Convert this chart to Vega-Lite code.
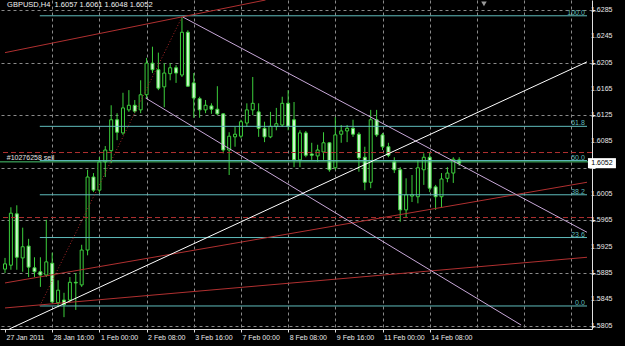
{
  "$schema": "https://vega.github.io/schema/vega-lite/v6.json",
  "width": 592,
  "height": 329,
  "autosize": {"type": "none"},
  "padding": {"left": 0, "top": 0, "right": 33, "bottom": 17},
  "background": "#000000",
  "config": {
    "view": {"stroke": null},
    "axis": {"labelOverlap": false, "labelFlush": false, "labelBound": false, "titleOpacity": 0,
      "labelFont": "Liberation Sans", "labelFontSize": 7, "labelColor": "#e8e8e8",
      "gridColor": "#8a8a8a", "gridDash": [3,3], "gridWidth": 1,
      "domainColor": "#e0e0e0", "tickColor": "#e0e0e0", "tickSize": 3},
    "axisY": {"labels": false}
  },
  "datasets": {
    "candles": [
      {"i":0,"o":1.5891,"h":1.5908,"l":1.5885,"c":1.5899},
      {"i":1,"o":1.5897,"h":1.5985,"l":1.5890,"c":1.5976},
      {"i":2,"o":1.5975,"h":1.5988,"l":1.5890,"c":1.5909},
      {"i":3,"o":1.5908,"h":1.5954,"l":1.5887,"c":1.5925},
      {"i":4,"o":1.5926,"h":1.5937,"l":1.5879,"c":1.5894},
      {"i":5,"o":1.5893,"h":1.5909,"l":1.5879,"c":1.5887},
      {"i":6,"o":1.5887,"h":1.5909,"l":1.5864,"c":1.5882},
      {"i":7,"o":1.5882,"h":1.5966,"l":1.5879,"c":1.5902},
      {"i":8,"o":1.5900,"h":1.5916,"l":1.5840,"c":1.5841},
      {"i":9,"o":1.5840,"h":1.5874,"l":1.5833,"c":1.5859},
      {"i":10,"o":1.5844,"h":1.5855,"l":1.5818,"c":1.5837},
      {"i":11,"o":1.5844,"h":1.5879,"l":1.5840,"c":1.5871},
      {"i":12,"o":1.5871,"h":1.5885,"l":1.5829,"c":1.5870},
      {"i":13,"o":1.5867,"h":1.5928,"l":1.5864,"c":1.5920},
      {"i":14,"o":1.5920,"h":1.6042,"l":1.5912,"c":1.6031},
      {"i":15,"o":1.6031,"h":1.6037,"l":1.6008,"c":1.6011},
      {"i":16,"o":1.6011,"h":1.6061,"l":1.6007,"c":1.6054},
      {"i":17,"o":1.6054,"h":1.6078,"l":1.6031,"c":1.6072},
      {"i":18,"o":1.6071,"h":1.6140,"l":1.6052,"c":1.6118},
      {"i":19,"o":1.6118,"h":1.6128,"l":1.6087,"c":1.6099},
      {"i":20,"o":1.6098,"h":1.6159,"l":1.6095,"c":1.6136},
      {"i":21,"o":1.6133,"h":1.6163,"l":1.6130,"c":1.6140},
      {"i":22,"o":1.6140,"h":1.6148,"l":1.6128,"c":1.6131},
      {"i":23,"o":1.6133,"h":1.6178,"l":1.6128,"c":1.6156},
      {"i":24,"o":1.6156,"h":1.6212,"l":1.6151,"c":1.6204},
      {"i":25,"o":1.6204,"h":1.6229,"l":1.6189,"c":1.6194},
      {"i":26,"o":1.6194,"h":1.6220,"l":1.6163,"c":1.6166},
      {"i":27,"o":1.6168,"h":1.6204,"l":1.6137,"c":1.6189},
      {"i":28,"o":1.6188,"h":1.6204,"l":1.6178,"c":1.6197},
      {"i":29,"o":1.6197,"h":1.6201,"l":1.6174,"c":1.6189},
      {"i":30,"o":1.6186,"h":1.6274,"l":1.6183,"c":1.6251},
      {"i":31,"o":1.6251,"h":1.6254,"l":1.6168,"c":1.6169},
      {"i":32,"o":1.6174,"h":1.6189,"l":1.6121,"c":1.6151},
      {"i":33,"o":1.6150,"h":1.6153,"l":1.6121,"c":1.6133},
      {"i":34,"o":1.6133,"h":1.6148,"l":1.6128,"c":1.6140},
      {"i":35,"o":1.6139,"h":1.6143,"l":1.6127,"c":1.6134},
      {"i":36,"o":1.6134,"h":1.6169,"l":1.6125,"c":1.6127},
      {"i":37,"o":1.6127,"h":1.6128,"l":1.6067,"c":1.6072},
      {"i":38,"o":1.6072,"h":1.6099,"l":1.6034,"c":1.6093},
      {"i":39,"o":1.6092,"h":1.6107,"l":1.6077,"c":1.6096},
      {"i":40,"o":1.6093,"h":1.6118,"l":1.6090,"c":1.6115},
      {"i":41,"o":1.6113,"h":1.6143,"l":1.6107,"c":1.6133},
      {"i":42,"o":1.6133,"h":1.6183,"l":1.6125,"c":1.6143},
      {"i":43,"o":1.6130,"h":1.6143,"l":1.6092,"c":1.6105},
      {"i":44,"o":1.6105,"h":1.6115,"l":1.6084,"c":1.6092},
      {"i":45,"o":1.6092,"h":1.6130,"l":1.6090,"c":1.6108},
      {"i":46,"o":1.6108,"h":1.6136,"l":1.6102,"c":1.6112},
      {"i":47,"o":1.6110,"h":1.6153,"l":1.6107,"c":1.6143},
      {"i":48,"o":1.6143,"h":1.6163,"l":1.6102,"c":1.6108},
      {"i":49,"o":1.6118,"h":1.6145,"l":1.6046,"c":1.6057},
      {"i":50,"o":1.6057,"h":1.6102,"l":1.6046,"c":1.6098},
      {"i":51,"o":1.6098,"h":1.6101,"l":1.6061,"c":1.6064},
      {"i":52,"o":1.6066,"h":1.6083,"l":1.6057,"c":1.6064},
      {"i":53,"o":1.6063,"h":1.6080,"l":1.6054,"c":1.6072},
      {"i":54,"o":1.6069,"h":1.6099,"l":1.6057,"c":1.6083},
      {"i":55,"o":1.6083,"h":1.6084,"l":1.6039,"c":1.6042},
      {"i":56,"o":1.6045,"h":1.6122,"l":1.6042,"c":1.6095},
      {"i":57,"o":1.6096,"h":1.6110,"l":1.6083,"c":1.6101},
      {"i":58,"o":1.6101,"h":1.6110,"l":1.6084,"c":1.6105},
      {"i":59,"o":1.6105,"h":1.6118,"l":1.6092,"c":1.6096},
      {"i":60,"o":1.6096,"h":1.6099,"l":1.6039,"c":1.6060},
      {"i":61,"o":1.6061,"h":1.6077,"l":1.6011,"c":1.6023},
      {"i":62,"o":1.6023,"h":1.6133,"l":1.6014,"c":1.6118},
      {"i":63,"o":1.6118,"h":1.6133,"l":1.6092,"c":1.6095},
      {"i":64,"o":1.6095,"h":1.6098,"l":1.6072,"c":1.6077},
      {"i":65,"o":1.6077,"h":1.6083,"l":1.6061,"c":1.6064},
      {"i":66,"o":1.6054,"h":1.6061,"l":1.6037,"c":1.6042},
      {"i":67,"o":1.6042,"h":1.6046,"l":1.5963,"c":1.5981},
      {"i":68,"o":1.5981,"h":1.6029,"l":1.5970,"c":1.6004},
      {"i":69,"o":1.6002,"h":1.6034,"l":1.5993,"c":1.6004},
      {"i":70,"o":1.6001,"h":1.6057,"l":1.5991,"c":1.6045},
      {"i":71,"o":1.6042,"h":1.6067,"l":1.6019,"c":1.6061},
      {"i":72,"o":1.6061,"h":1.6069,"l":1.6008,"c":1.6014},
      {"i":73,"o":1.6016,"h":1.6019,"l":1.5981,"c":1.6001},
      {"i":74,"o":1.6001,"h":1.6037,"l":1.5985,"c":1.6028},
      {"i":75,"o":1.6029,"h":1.6046,"l":1.6023,"c":1.6037},
      {"i":76,"o":1.6037,"h":1.6061,"l":1.6022,"c":1.6058},
      {"i":77,"o":1.6057,"h":1.6061,"l":1.6048,"c":1.6052}
    ],
    "yticks": [
      {"p":1.5805,"label":"1.5805"},{"p":1.5845,"label":"1.5845"},{"p":1.5885,"label":"1.5885"},
      {"p":1.5925,"label":"1.5925"},{"p":1.5965,"label":"1.5965"},{"p":1.6005,"label":"1.6005"},
      {"p":1.6085,"label":"1.6085"},{"p":1.6125,"label":"1.6125"},
      {"p":1.6165,"label":"1.6165"},{"p":1.6205,"label":"1.6205"},{"p":1.6245,"label":"1.6245"},
      {"p":1.6285,"label":"1.6285"}
    ],
    "fib": [
      {"lvl":"100.0","p":1.6276},
      {"lvl":"61.8","p":1.6108},
      {"lvl":"50.0","p":1.6056},
      {"lvl":"38.2","p":1.6004},
      {"lvl":"23.6","p":1.5939},
      {"lvl":"0.0","p":1.5835}
    ],
    "stops": [{"p":1.60682},{"p":1.59694}],
    "order": [{"p":1.6054,"label":"#10276258 sell"}],
    "redLines": [
      {"i1":0,"p1":1.6220,"i2":44.17,"p2":1.6300},
      {"i1":0,"p1":1.5870,"i2":98.667,"p2":1.6023},
      {"i1":0,"p1":1.5832,"i2":98.667,"p2":1.5909}
    ],
    "lavLines": [
      {"i1":30.17,"p1":1.6274,"i2":98.667,"p2":1.5947},
      {"i1":23.83,"p1":1.6151,"i2":87.5,"p2":1.5806}
    ],
    "whiteLines": [{"i1":0.73,"p1":1.5800,"i2":98.667,"p2":1.6206}],
    "fibTrend": [{"i1":5.9,"p1":1.5835,"i2":30.1,"p2":1.6276}],
    "title": [{"t":"GBPUSD,H4\u00a0\u00a01.6057 1.6061 1.6048 1.6052"}],
    "bid": [{"p":1.6052,"label":"1.6052"}],
    "shift": [{"v":1}]
  },
  "layer": [
    {
      "data": {"name": "candles"},
      "mark": {"type": "rule", "color": "#3ccf3c", "strokeWidth": 1},
      "encoding": {
        "x": {"field": "i", "type": "quantitative",
          "scale": {"domain": [0, 98.667], "nice": false, "zero": false},
          "axis": {
            "title": null, "orient": "bottom",
            "values": [0,4,8,12,16,20,24,28,32,36,40,44,48,52,56,60,64,68,72,76,80,84,88,92,96],
            "grid": true,
            "gridOpacity": {"condition": {"test": "datum.value === 0", "value": 0}, "value": 1},
            "domain": true, "ticks": true,
            "tickOpacity": {"condition": {"test": "datum.value % 8 === 0 && datum.value <= 72", "value": 1}, "value": 0},
            "labelExpr": "datum.value==0?'27 Jan 2011':datum.value==8?'28 Jan 16:00':datum.value==16?'1 Feb 00:00':datum.value==24?'2 Feb 08:00':datum.value==32?'3 Feb 16:00':datum.value==40?'7 Feb 00:00':datum.value==48?'8 Feb 08:00':datum.value==56?'9 Feb 16:00':datum.value==64?'11 Feb 00:00':datum.value==72?'14 Feb 08:00':''",
            "labelAlign": "left", "labelBaseline": "top", "labelPadding": 1, "labelOffset": 1,
            "labelOverlap": false
          }
        },
        "y": {"field": "l", "type": "quantitative",
          "scale": {"domain": [1.58, 1.63], "nice": false, "zero": false},
          "axis": {
            "title": null, "orient": "right",
            "values": [1.5805,1.5845,1.5885,1.5925,1.5965,1.6005,1.6045,1.6085,1.6125,1.6165,1.6205,1.6245,1.6285],
            "grid": true, "domain": true, "ticks": true, "labels": false
          }
        },
        "y2": {"field": "h"}
      }
    },
    {
      "data": {"name": "candles"},
      "mark": {"type": "bar", "width": 3, "stroke": "#3ccf3c", "strokeWidth": 1},
      "encoding": {
        "x": {"field": "i", "type": "quantitative", "scale": {"domain": [0, 98.667], "nice": false, "zero": false}},
        "y": {"field": "o", "type": "quantitative", "scale": {"domain": [1.58, 1.63], "nice": false, "zero": false}},
        "y2": {"field": "c"},
        "fill": {"condition": {"test": "datum.c < datum.o", "value": "#cdf7cd"}, "value": "#000000"}
      }
    },
    {
      "data": {"name": "stops"},
      "mark": {"type": "rule", "color": "#b03030", "strokeWidth": 1, "strokeDash": [5,3]},
      "encoding": {
        "y": {"field": "p", "type": "quantitative", "scale": {"domain": [1.58, 1.63], "nice": false, "zero": false}}
      }
    },
    {
      "data": {"name": "fib"},
      "mark": {"type": "rule", "color": "#5fbcbc", "strokeWidth": 1},
      "encoding": {
        "x": {"datum": 5.9, "type": "quantitative", "scale": {"domain": [0, 98.667], "nice": false, "zero": false}},
        "x2": {"datum": 98.667},
        "y": {"field": "p", "type": "quantitative", "scale": {"domain": [1.58, 1.63], "nice": false, "zero": false}}
      }
    },
    {
      "data": {"name": "order"},
      "mark": {"type": "rule", "color": "#48c870", "strokeWidth": 1},
      "encoding": {
        "y": {"field": "p", "type": "quantitative", "scale": {"domain": [1.58, 1.63], "nice": false, "zero": false}}
      }
    },
    {
      "data": {"name": "redLines"},
      "mark": {"type": "rule", "color": "#b03030", "strokeWidth": 1, "clip": true},
      "encoding": {
        "x": {"field": "i1", "type": "quantitative", "scale": {"domain": [0, 98.667], "nice": false, "zero": false}},
        "x2": {"field": "i2"},
        "y": {"field": "p1", "type": "quantitative", "scale": {"domain": [1.58, 1.63], "nice": false, "zero": false}},
        "y2": {"field": "p2"}
      }
    },
    {
      "data": {"name": "fibTrend"},
      "mark": {"type": "rule", "color": "#a82828", "strokeWidth": 1, "strokeDash": [1,2], "clip": true},
      "encoding": {
        "x": {"field": "i1", "type": "quantitative", "scale": {"domain": [0, 98.667], "nice": false, "zero": false}},
        "x2": {"field": "i2"},
        "y": {"field": "p1", "type": "quantitative", "scale": {"domain": [1.58, 1.63], "nice": false, "zero": false}},
        "y2": {"field": "p2"}
      }
    },
    {
      "data": {"name": "lavLines"},
      "mark": {"type": "rule", "color": "#c8a8d8", "strokeWidth": 1, "clip": true},
      "encoding": {
        "x": {"field": "i1", "type": "quantitative", "scale": {"domain": [0, 98.667], "nice": false, "zero": false}},
        "x2": {"field": "i2"},
        "y": {"field": "p1", "type": "quantitative", "scale": {"domain": [1.58, 1.63], "nice": false, "zero": false}},
        "y2": {"field": "p2"}
      }
    },
    {
      "data": {"name": "whiteLines"},
      "mark": {"type": "rule", "color": "#ffffff", "strokeWidth": 1, "clip": true},
      "encoding": {
        "x": {"field": "i1", "type": "quantitative", "scale": {"domain": [0, 98.667], "nice": false, "zero": false}},
        "x2": {"field": "i2"},
        "y": {"field": "p1", "type": "quantitative", "scale": {"domain": [1.58, 1.63], "nice": false, "zero": false}},
        "y2": {"field": "p2"}
      }
    },
    {
      "data": {"name": "fib"},
      "mark": {"type": "text", "color": "#5fbcbc", "font": "Liberation Sans", "fontSize": 7, "align": "right", "baseline": "alphabetic", "dy": -1},
      "encoding": {
        "x": {"datum": 98.3, "type": "quantitative", "scale": {"domain": [0, 98.667], "nice": false, "zero": false}},
        "y": {"field": "p", "type": "quantitative", "scale": {"domain": [1.58, 1.63], "nice": false, "zero": false}},
        "text": {"field": "lvl"}
      }
    },
    {
      "data": {"name": "order"},
      "mark": {"type": "text", "color": "#e0e0e0", "font": "Liberation Sans", "fontSize": 7, "align": "left", "baseline": "alphabetic", "dy": -1.5},
      "encoding": {
        "x": {"datum": 0.3, "type": "quantitative", "scale": {"domain": [0, 98.667], "nice": false, "zero": false}},
        "y": {"field": "p", "type": "quantitative", "scale": {"domain": [1.58, 1.63], "nice": false, "zero": false}},
        "text": {"field": "label"}
      }
    },
    {
      "data": {"name": "title"},
      "mark": {"type": "text", "color": "#f0f0f0", "font": "Liberation Sans", "fontSize": 7.5, "align": "left", "baseline": "middle"},
      "encoding": {
        "x": {"datum": 0.35, "type": "quantitative", "scale": {"domain": [0, 98.667], "nice": false, "zero": false}},
        "y": {"datum": 1.6292, "type": "quantitative", "scale": {"domain": [1.58, 1.63], "nice": false, "zero": false}},
        "text": {"field": "t"}
      }
    },
    {
      "data": {"name": "yticks"},
      "mark": {"type": "text", "color": "#e8e8e8", "font": "Liberation Sans", "fontSize": 7, "align": "left", "baseline": "middle"},
      "encoding": {
        "x": {"datum": 99.35, "type": "quantitative", "scale": {"domain": [0, 98.667], "nice": false, "zero": false}},
        "y": {"field": "p", "type": "quantitative", "scale": {"domain": [1.58, 1.63], "nice": false, "zero": false}},
        "text": {"field": "label"}
      }
    },
    {
      "data": {"name": "bid"},
      "mark": {"type": "point", "shape": "M-1,-0.36L1,-0.36L1,0.36L-1,0.36Z", "size": 784, "filled": true, "fill": "#ffffff", "opacity": 1, "strokeWidth": 0},
      "encoding": {
        "x": {"datum": 101.2, "type": "quantitative", "scale": {"domain": [0, 98.667], "nice": false, "zero": false}},
        "y": {"field": "p", "type": "quantitative", "scale": {"domain": [1.58, 1.63], "nice": false, "zero": false}}
      }
    },
    {
      "data": {"name": "bid"},
      "mark": {"type": "text", "color": "#000000", "font": "Liberation Sans", "fontSize": 7, "align": "center", "baseline": "middle"},
      "encoding": {
        "x": {"datum": 101.2, "type": "quantitative", "scale": {"domain": [0, 98.667], "nice": false, "zero": false}},
        "y": {"field": "p", "type": "quantitative", "scale": {"domain": [1.58, 1.63], "nice": false, "zero": false}},
        "text": {"field": "label"}
      }
    },
    {
      "data": {"name": "shift"},
      "mark": {"type": "point", "shape": "triangle-down", "size": 30, "filled": true, "fill": "#9a9a9a", "opacity": 1, "strokeWidth": 0},
      "encoding": {
        "x": {"datum": 81.2, "type": "quantitative", "scale": {"domain": [0, 98.667], "nice": false, "zero": false}},
        "y": {"datum": 1.6294, "type": "quantitative", "scale": {"domain": [1.58, 1.63], "nice": false, "zero": false}}
      }
    }
  ]
}
